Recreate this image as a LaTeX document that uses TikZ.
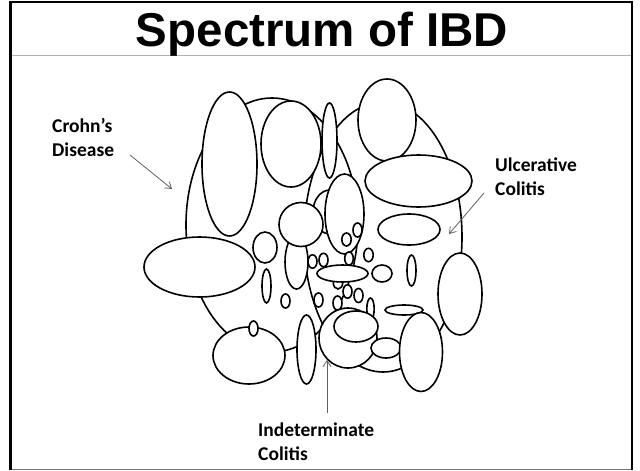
\documentclass[tikz,border=0pt]{standalone}
\usepackage{fontspec}
\setmainfont{Carlito}
\newfontfamily\titlefont{Liberation Sans}
\usetikzlibrary{arrows.meta}
\tikzset{
  blob/.style={draw=black, fill=white, line width=1.6pt},
  bigblob/.style={draw=black, line width=1.6pt},
  pointer/.style={draw=black!62, line width=0.8pt, -{Straight Barb[length=6pt,width=8pt]}},
  lbl/.style={anchor=base west, inner sep=0pt, font=\bfseries\fontsize{19.5}{24.5}\selectfont}
}
\begin{document}
\begin{tikzpicture}[x=1pt,y=-1pt]
\useasboundingbox (0,0) rectangle (640,471);
% frame
\draw[black!55, line width=1pt] (10,469.5) -- (632,469.5);
\draw[black, line width=2.6pt] (10.5,470) -- (10.5,2) -- (632,2) -- (632,470);
\draw[black!30, line width=1pt] (12,55) -- (631,55);
\node[anchor=base, inner sep=0pt, font=\titlefont\bfseries\fontsize{47.5}{50}\selectfont] (title) at (322,46) {Spectrum of IBD};
% big ellipses
\path[bigblob] (272,225) ellipse [x radius=86, y radius=127];
\path[bigblob] (383,237) ellipse [x radius=79, y radius=135];
% small ellipses
\path[blob] (330,212) ellipse [x radius=17, y radius=22];
\path[blob] (229.5,164) ellipse [x radius=27.5, y radius=72];
\path[blob] (291,144) ellipse [x radius=30, y radius=43];
\path[blob] (329.5,140.5) ellipse [x radius=7.5, y radius=37.5];
\path[blob] (387,120) ellipse [x radius=29, y radius=41];
\path[blob] (418.5,181) ellipse [x radius=53.5, y radius=26];
\path[blob] (409,229.5) ellipse [x radius=31, y radius=15.5];
\path[blob] (296.5,262) ellipse [x radius=11.5, y radius=27];
\path[blob] (301,224.5) circle [radius=22];
\path[blob] (344.5,214) ellipse [x radius=19.5, y radius=40];
\path[blob] (346.5,239.5) ellipse [x radius=4.7, y radius=6.5];
\path[blob] (357.5,230) ellipse [x radius=4.5, y radius=7];
\path[blob] (265,247.5) ellipse [x radius=12, y radius=15.5];
\path[blob] (199.5,267) ellipse [x radius=55.5, y radius=30];
\path[blob] (266.5,286) ellipse [x radius=4.5, y radius=17];
\path[blob] (312.5,261.5) ellipse [x radius=4.5, y radius=6.7];
\path[blob] (323.5,260) ellipse [x radius=4.5, y radius=6.7];
\path[blob] (349,258.5) ellipse [x radius=4.3, y radius=6.5];
\path[blob] (368.5,255) ellipse [x radius=4.7, y radius=6.7];
\path[blob] (338,283) ellipse [x radius=4.7, y radius=6];
\path[blob] (347.5,291.5) ellipse [x radius=4.5, y radius=6.7];
\path[blob] (358.5,295.5) ellipse [x radius=4.5, y radius=7];
\path[blob] (342.5,273.5) ellipse [x radius=25.5, y radius=8.5];
\path[blob] (382,273.5) ellipse [x radius=10, y radius=8.5];
\path[blob] (411.5,270.5) ellipse [x radius=4.5, y radius=15.5];
\path[blob] (318.5,300) ellipse [x radius=4.5, y radius=7];
\path[blob] (337.5,303) ellipse [x radius=4.5, y radius=7];
\path[blob] (285.5,301) ellipse [x radius=4.5, y radius=7];
\path[blob] (370.5,309) ellipse [x radius=3.7, y radius=11];
\path[blob] (460,294) ellipse [x radius=22, y radius=41];
\path[blob] (404,310) ellipse [x radius=19, y radius=5];
\path[blob] (249,355.5) ellipse [x radius=36, y radius=28.5];
\path[blob] (253.5,328.5) ellipse [x radius=4.5, y radius=7.5];
\path[blob] (306.5,349.5) ellipse [x radius=9.5, y radius=34.5];
\path[blob] (348,338) ellipse [x radius=29, y radius=30];
\path[blob] (356,326.5) ellipse [x radius=22, y radius=15.5];
\path[blob] (386,348) ellipse [x radius=15, y radius=10];
\path[blob] (421,352) ellipse [x radius=21.5, y radius=39.5];
% labels
\node[lbl] (cd) at (52,132) {\vtop{\hbox{Crohn’s}\hbox{Disease}}};
\node[lbl] (uc) at (495,171) {\vtop{\hbox{Ulcerative}\hbox{Colitis}}};
\node[lbl] (ic) at (258,436) {\vtop{\hbox{Indeterminate}\hbox{Colitis}}};
% pointers
\coordinate (cdA) at (130,155);
\coordinate (cdB) at (172,189);
\coordinate (ucA) at (484,193);
\coordinate (ucB) at (449,234);
\coordinate (icA) at (327,413);
\coordinate (icB) at (327,360);
\draw[pointer] (cdA) -- (cdB);
\draw[pointer] (ucA) -- (ucB);
\draw[pointer] (icA) -- (icB);
\end{tikzpicture}
\end{document}
